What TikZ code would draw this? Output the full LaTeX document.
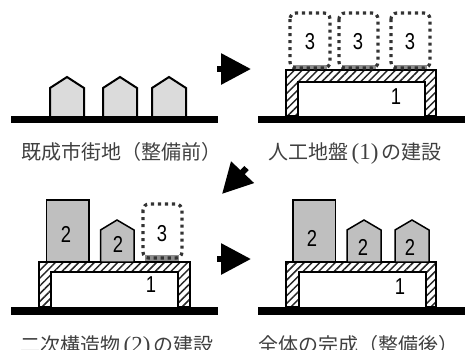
\documentclass[tikz,border=0pt]{standalone}
\usepackage{fontspec}
\usepackage{tikz}
\usetikzlibrary{arrows.meta}
\usetikzlibrary{patterns.meta}
\newfontfamily\jpfont{Noto Sans CJK JP}
\newfontfamily\parfont{Liberation Serif}
\newfontfamily\numfont[FakeStretch=0.8]{Liberation Sans}
\newcommand{\parnum}[1]{\,{\parfont\fontsize{23}{23}\selectfont(#1)}\,}

\begin{document}
\begin{tikzpicture}[
    x=1pt,y=-1pt,
    ground/.style={fill=black},
    small house/.style={draw,line width=2pt,fill=black!14},
    big house/.style={draw,line width=1.5pt,fill=black!25},
    deck/.style={draw,line width=1.4pt,pattern={Lines[angle=45,distance=5.5pt,line width=1.5pt]},pattern color=black!85},
    deck room/.style={draw,line width=1.8pt,fill=white},
    planned/.style={draw=black!80,line width=3.2pt,dash pattern=on 3.2pt off 3.8pt,rounded corners=6pt},
    planned base/.style={fill=black!45},
    main node/.style={font=\numfont\fontsize{23}{23}\selectfont,inner sep=0pt},
    caption/.style={font=\jpfont\fontsize{20}{20}\selectfont,inner sep=0pt,black!75,anchor=base},
    step link/.style={line width=6pt,-{Triangle[length=30pt,width=30pt]}}
    ]
    \useasboundingbox (0,0) rectangle (470,349);
    % 1 before
    \foreach \x in {67,120,169} {
        \draw [small house] (\x-17,116) -- (\x-17,88) -- (\x,77) -- (\x+17,88) -- (\x+17,116);
    }
    \fill [ground] (11,115.5) rectangle (218,123);
    \node [caption] (caption1) at (121,159) {既成市街地（整備前）};
    % 2 deck
    \foreach \x/\w in {293/34,342/34,394/33} {
        \fill [planned base] (\x,65) rectangle (\x+\w,70);
    }
    \draw [deck] (286,116) -- (286,70) -- (436,70) -- (436,116) -- (425,116) -- (425,82) -- (298,82) -- (298,116) -- cycle;
    \draw [deck room] (298,116) -- (298,82) -- (425,82) -- (425,116);
    \fill [ground] (258,116) rectangle (465,123);
    \foreach \x/\w in {290/40,339/39,391/39} {
        \draw [planned] (\x,13) rectangle (\x+\w,68);
    }
    \node [main node] (three1) at (310,42) {3};
    \node [main node] (three2) at (358,42) {3};
    \node [main node] (three3) at (410,42) {3};
    \node [main node] (one2) at (396,97) {1};
    \node [caption] (caption2) at (355,159) {人工地盤\parnum{1}の建設};
    % 3 tall block
    \fill [planned base] (145,255) rectangle (179,262);
    \draw [deck] (39,307) -- (39,262) -- (190,262) -- (190,307) -- (178,307) -- (178,272) -- (51,272) -- (51,307) -- cycle;
    \fill [ground] (11,307) rectangle (218,315);
    \draw [big house] (46.5,262) rectangle (89,200);
    \draw [big house] (100.5,262) -- (100.5,230) -- (117,220) -- (134,230) -- (134,262) -- cycle;
    \draw [planned] (143,204) rectangle (182,258);
    \node [main node] (two1) at (66,234) {2};
    \node [main node] (two2) at (118,244) {2};
    \node [main node] (three4) at (162,234) {3};
    \node [main node] (one3) at (151,285) {1};
    \node [caption] (caption3) at (117,352) {二次構造物\parnum{2}の建設};
    % 4 finished
    \draw [deck] (286,307) -- (286,262) -- (436,262) -- (436,307) -- (426,307) -- (426,272) -- (299,272) -- (299,307) -- cycle;
    \fill [ground] (258,307) rectangle (465,315);
    \draw [big house] (293,262) rectangle (335.5,200);
    \foreach \x in {364,412} {
        \draw [big house] (\x-17,262) -- (\x-17,230) -- (\x,220) -- (\x+17,230) -- (\x+17,262) -- cycle;
    }
    \node [main node] (two3) at (312,238) {2};
    \node [main node] (two4) at (363,247) {2};
    \node [main node] (two5) at (410,247) {2};
    \node [main node] (one4) at (400,287) {1};
    \node [caption] (caption4) at (358,352) {全体の完成（整備後）};
    % arrows
    \coordinate (a1) at (217,69);
    \coordinate (b1) at (251,69);
    \coordinate (a2) at (246.5,168);
    \coordinate (b2) at (222,194);
    \coordinate (a3) at (217,259);
    \coordinate (b3) at (251,259);
    \draw [step link] (a1) -- (b1);
    \draw [step link] (a2) -- (b2);
    \draw [step link] (a3) -- (b3);
\end{tikzpicture}
\end{document}
